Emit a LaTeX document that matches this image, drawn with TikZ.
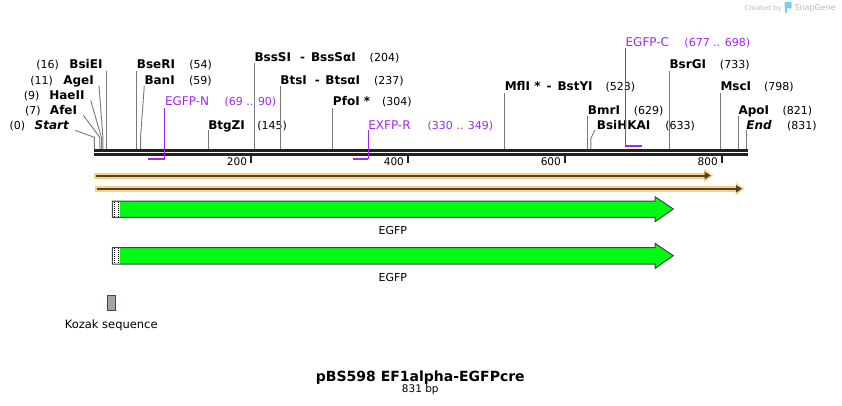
\documentclass[tikz,border=0pt]{standalone}
\usepackage{fontspec}
\setmainfont{DejaVu Sans}
\usepackage{xcolor}
\usetikzlibrary{arrows.meta, positioning}

\definecolor{cebador}{RGB}{160,40,240}
\definecolor{cortegris}{RGB}{120,120,120}
\definecolor{secuencia}{RGB}{34,34,34}
\definecolor{orfclaro}{RGB}{252,206,128}
\definecolor{orfoscuro}{RGB}{80,66,48}
\definecolor{egfpverde}{RGB}{0,250,20}
\definecolor{borde}{RGB}{68,68,68}
\definecolor{kozakgris}{RGB}{160,164,178}
\definecolor{marcagris}{RGB}{185,185,185}
\definecolor{marcaazul}{RGB}{125,200,240}

% posicion en pb -> x
\newcommand{\posx}[1]{94.3+0.7845*#1}

\begin{document}
\begin{tikzpicture}[
					% Estilos del mapa
					x=1pt, y=-1pt,
					>=Stealth,
					sitio/.style={inner sep=0pt, anchor=base west, font=\fontsize{12}{14}\selectfont\bfseries},
					sitioizq/.style={sitio, anchor=base east},
					posicion/.style={inner sep=0pt, anchor=base west, font=\fontsize{11}{13}\selectfont},
					posicionizq/.style={posicion, anchor=base east},
					cebnombre/.style={inner sep=0pt, anchor=base west, text=cebador, font=\fontsize{12}{14}\selectfont},
					cebpos/.style={cebnombre, font=\fontsize{11}{13}\selectfont},
					corteline/.style={draw=cortegris, line width=0.9pt},
					cebline/.style={draw=cebador, line width=1pt},
					cebunion/.style={draw=cebador, line width=2pt},
					secline/.style={draw=secuencia, line width=2.5pt},
					marca/.style={draw=secuencia, line width=1.8pt},
					marcatexto/.style={inner sep=0pt, anchor=base east, font=\fontsize{10.5}{12}\selectfont},
					orffondo/.style={draw=orfclaro, line width=6pt, -{Triangle[length=9pt,width=12pt]}},
					orflinea/.style={draw=orfoscuro, line width=2pt, -{Triangle[length=6pt,width=7pt]}},
					egfp/.style={fill=egfpverde, draw=borde, line width=1pt},
					rotulo/.style={inner sep=0pt, anchor=base, font=\fontsize{11}{13}\selectfont},
					kozak/.style={draw=borde, fill=kozakgris, line width=0.8pt, inner sep=0pt, minimum width=7.7pt, minimum height=15.4pt},
					titulo/.style={inner sep=0pt, anchor=base, font=\fontsize{14}{16}\selectfont\bfseries},
					credito/.style={inner sep=0pt, text=marcagris, font=\fontsize{6.7}{8}\selectfont}
				]
				\useasboundingbox (0,0) rectangle (842,406);
				% Marca de agua
				\node[credito, anchor=base east] (creado) at (781.7,10.7) {Created by};
				\fill[marcaazul, rounded corners=1pt] (784.5,2) rectangle (791.5,8.5);
				\fill[marcaazul] (784.5,4) rectangle (787.2,12.7);
				\node[credito, anchor=base west, font=\fontsize{8}{9}\selectfont] (snapgene) at (794.3,10.7) {SnapGene};
				% Puntos de corte sobre la secuencia
				\coordinate (c-start) at ({\posx{0}},149);
				\coordinate (c-afei) at ({\posx{7}},149);
				\coordinate (c-haeii) at ({\posx{9}},149);
				\coordinate (c-agei) at ({\posx{11}},149);
				\coordinate (c-bsiei) at ({\posx{16}},149);
				\coordinate (c-bseri) at ({\posx{54}},149);
				\coordinate (c-bani) at ({\posx{59}},149);
				\coordinate (c-btgzi) at ({\posx{145}},149);
				\coordinate (c-bsssi) at ({\posx{204}},149);
				\coordinate (c-btsi) at ({\posx{237}},149);
				\coordinate (c-pfoi) at ({\posx{304}},149);
				\coordinate (c-mfli) at ({\posx{523}},149);
				\coordinate (c-bmri) at ({\posx{629}},149);
				\coordinate (c-bsihkai) at ({\posx{633}},149);
				\coordinate (c-bsrgi) at ({\posx{733}},149);
				\coordinate (c-msci) at ({\posx{798}},149);
				\coordinate (c-apoi) at ({\posx{821}},149);
				\coordinate (c-end) at ({\posx{831}},149);
				% Enzimas a la izquierda
				\node[sitioizq, font=\fontsize{12}{14}\selectfont\bfseries\itshape] (start) at (69,129.3) {Start};
				\node[posicionizq] (n-start) at ([xshift=-9pt]start.base west) {(0)};
				\node[sitioizq] (afei) at (77.3,114.3) {AfeI};
				\node[posicionizq] (n-afei) at ([xshift=-9pt]afei.base west) {(7)};
				\node[sitioizq] (haeii) at (84.7,99.3) {HaeII};
				\node[posicionizq] (n-haeii) at ([xshift=-9.5pt]haeii.base west) {(9)};
				\node[sitioizq] (agei) at (94,84.3) {AgeI};
				\node[posicionizq] (n-agei) at ([xshift=-10pt]agei.base west) {(11)};
				\node[sitioizq] (bsiei) at (102.7,69) {BsiEI};
				\node[posicionizq] (n-bsiei) at ([xshift=-10pt]bsiei.base west) {(16)};
				% Enzimas a la derecha
				\node[sitio] (bseri) at ({\posx{54}},69) {BseRI};
				\node[posicion] (n-bseri) at ([xshift=14pt]bseri.base east) {(54)};
				\node[sitio] (bani) at (144.3,84.3) {BanI};
				\node[posicion] (n-bani) at ([xshift=14pt]bani.base east) {(59)};
				\node[sitio] (btgzi) at ({\posx{145}},129.3) {BtgZI};
				\node[posicion] (n-btgzi) at ([xshift=12pt]btgzi.base east) {(145)};
				\node[sitio] (bsssi) at ({\posx{204}},61.3) {BssSI\hspace{9pt}-\hspace{6pt}BssSαI};
				\node[posicion] (n-bsssi) at ([xshift=13.5pt]bsssi.base east) {(204)};
				\node[sitio] (btsi) at ({\posx{237}},84.3) {BtsI\hspace{8pt}-\hspace{5.5pt}BtsαI};
				\node[posicion] (n-btsi) at ([xshift=13.5pt]btsi.base east) {(237)};
				\node[sitio] (pfoi) at ({\posx{304}},106) {PfoI *};
				\node[posicion] (n-pfoi) at ([xshift=11.5pt]pfoi.base east) {(304)};
				\node[sitio] (mfli) at ({\posx{523}},91) {MflI *\hspace{6pt}-\hspace{6pt}BstYI};
				\node[posicion] (n-mfli) at ([xshift=12.5pt]mfli.base east) {(523)};
				\node[sitio] (bmri) at ({\posx{629}},114.3) {BmrI};
				\node[posicion] (n-bmri) at ([xshift=13.5pt]bmri.base east) {(629)};
				\node[sitio] (bsihkai) at (596.7,129.3) {BsiHKAI};
				\node[posicion] (n-bsihkai) at ([xshift=14.5pt]bsihkai.base east) {(633)};
				\node[sitio] (bsrgi) at ({\posx{733}},69) {BsrGI};
				\node[posicion] (n-bsrgi) at ([xshift=13.5pt]bsrgi.base east) {(733)};
				\node[sitio] (msci) at ({\posx{798}},91) {MscI};
				\node[posicion] (n-msci) at ([xshift=12.5pt]msci.base east) {(798)};
				\node[sitio] (apoi) at ({\posx{821}},114.3) {ApoI};
				\node[posicion] (n-apoi) at ([xshift=13pt]apoi.base east) {(821)};
				\node[sitio, font=\fontsize{12}{14}\selectfont\bfseries\itshape] (end) at ({\posx{831}},129.3) {End};
				\node[posicion] (n-end) at ([xshift=15pt]end.base east) {(831)};
				% Lineas de corte
				\draw[corteline] ([shift={(6pt,-1pt)}]start.base east) -- ([yshift=11.7pt]c-start) -- (c-start);
				\draw[corteline] ([shift={(6pt,-1pt)}]afei.base east) -- ([yshift=11.7pt]c-afei) -- (c-afei);
				\draw[corteline] ([shift={(6pt,-1pt)}]haeii.base east) -- ([yshift=11.7pt]c-haeii) -- (c-haeii);
				\draw[corteline] ([shift={(5pt,-1.4pt)}]agei.base east) -- ([yshift=11.7pt]c-agei) -- (c-agei);
				\draw[corteline] ([yshift=-2pt]bsiei.base -| c-bsiei) -- (c-bsiei);
				\draw[corteline] ([yshift=-2pt]bseri.base west) -- (c-bseri);
				\draw[corteline] ([yshift=-1.4pt]bani.base west) -- ([yshift=12.3pt]c-bani) -- (c-bani);
				\draw[corteline] ([yshift=-1pt]btgzi.base west) -- (c-btgzi);
				\draw[corteline] ([yshift=-2pt]bsssi.base west) -- (c-bsssi);
				\draw[corteline] ([yshift=-2pt]btsi.base west) -- (c-btsi);
				\draw[corteline] ([yshift=-2pt]pfoi.base west) -- (c-pfoi);
				\draw[corteline] ([yshift=-2.5pt]mfli.base west) -- (c-mfli);
				\draw[corteline] ([yshift=-2pt]bmri.base west) -- (c-bmri);
				\draw[corteline] ([shift={(-1.7pt,-0.7pt)}]bsihkai.base west) -- ([yshift=10.7pt]c-bsihkai) -- (c-bsihkai);
				\draw[corteline] ([yshift=-2pt]bsrgi.base west) -- (c-bsrgi);
				\draw[corteline] ([yshift=-2pt]msci.base west) -- (c-msci);
				\draw[corteline] ([yshift=-1.5pt]apoi.base west) -- (c-apoi);
				\draw[corteline] ([yshift=-1pt]end.base west) -- (c-end);
				% Secuencia (doble hebra)
				\coordinate (sec-a1) at (94.3,150.5);
				\coordinate (sec-b1) at (747.7,150.5);
				\coordinate (sec-a2) at (94.3,154.5);
				\coordinate (sec-b2) at (747.7,154.5);
				\draw[secline] (sec-a1) -- (sec-b1);
				\draw[secline] (sec-a2) -- (sec-b2);
				% Escala
				\coordinate (t200) at ({\posx{200}},155);
				\coordinate (t400) at ({\posx{400}},155);
				\coordinate (t600) at ({\posx{600}},155);
				\coordinate (t800) at ({\posx{800}},155);
				\draw[marca] (t200) -- ++(0,8);
				\draw[marca] (t400) -- ++(0,8);
				\draw[marca] (t600) -- ++(0,8);
				\draw[marca] (t800) -- ++(0,8);
				\node[marcatexto] (l200) at ([shift={(-4pt,-10.7pt)}]t200) {200};
				\node[marcatexto] (l400) at ([shift={(-4pt,-10.7pt)}]t400) {400};
				\node[marcatexto] (l600) at ([shift={(-4pt,-10.7pt)}]t600) {600};
				\node[marcatexto] (l800) at ([shift={(-4pt,-10.7pt)}]t800) {800};
				% Cebadores
				\coordinate (egfpn-a) at ({\posx{69}},159.3);
				\coordinate (egfpn-b) at ({\posx{90}},159.3);
				\node[cebnombre] (egfpn) at ({\posx{90}},106) {EGFP-N};
				\node[cebpos] (n-egfpn) at ([xshift=15pt]egfpn.base east) {(69 .. 90)};
				\draw[cebline] ([yshift=-2pt]egfpn.base west) -- (egfpn-b);
				\draw[cebunion] (egfpn-b) -- (egfpn-a);
				\coordinate (exfpr-a) at ({\posx{330}},159.3);
				\coordinate (exfpr-b) at ({\posx{349}},159.3);
				\node[cebnombre] (exfpr) at ({\posx{349}},129.3) {EXFP-R};
				\node[cebpos] (n-exfpr) at ([xshift=16.5pt]exfpr.base east) {(330 .. 349)};
				\draw[cebline] ([yshift=-1pt]exfpr.base west) -- (exfpr-b);
				\draw[cebunion] (exfpr-b) -- (exfpr-a);
				\coordinate (egfpc-a) at ({\posx{677}},146);
				\coordinate (egfpc-b) at ({\posx{698}},146);
				\node[cebnombre] (egfpc) at ({\posx{677}},46.7) {EGFP-C};
				\node[cebpos] (n-egfpc) at ([xshift=15pt]egfpc.base east) {(677 .. 698)};
				\draw[cebline] ([yshift=-1.6pt]egfpc.base west) -- (egfpc-a);
				\draw[cebunion] (egfpc-a) -- (egfpc-b);
				% Marcos de lectura
				\coordinate (orf1-a) at (94.3,175.5);
				\coordinate (orf1-b) at (710.7,175.5);
				\coordinate (orf2-a) at (95.3,188.8);
				\coordinate (orf2-b) at (742,188.8);
				\draw[orffondo] (orf1-a) -- ([xshift=2.5pt]orf1-b);
				\draw[orflinea] ([xshift=2pt]orf1-a) -- (orf1-b);
				\draw[orffondo] (orf2-a) -- ([xshift=2.5pt]orf2-b);
				\draw[orflinea] ([xshift=2pt]orf2-a) -- (orf2-b);
				% Caracteristicas EGFP
				\fill[egfpverde] (112.3,201) -- (655,201) -- (655,196.7) -- (673.3,209) -- (655,221.7) -- (655,217.3) -- (112.3,217.3) -- cycle;
				\fill[white] (112.8,201.5) rectangle (119.5,216.8);
				\draw[black, line width=1pt, dash pattern=on 1pt off 1pt] (114.4,201.5) -- (114.4,216.8);
				\draw[black, line width=1pt, dash pattern=on 1pt off 1pt] (118.3,201.5) -- (118.3,216.8);
				\draw[egfp, fill=none] (112.3,201) -- (655,201) -- (655,196.7) -- (673.3,209) -- (655,221.7) -- (655,217.3) -- (112.3,217.3) -- cycle;
				\node[rotulo] (egfp1) at (392.8,234.3) {EGFP};
				\fill[egfpverde] (112.3,247.7) -- (655,247.7) -- (655,243.4) -- (673.3,255.7) -- (655,268.4) -- (655,264) -- (112.3,264) -- cycle;
				\fill[white] (112.8,248.2) rectangle (119.5,263.5);
				\draw[black, line width=1pt, dash pattern=on 1pt off 1pt] (114.4,248.2) -- (114.4,263.5);
				\draw[black, line width=1pt, dash pattern=on 1pt off 1pt] (118.3,248.2) -- (118.3,263.5);
				\draw[egfp, fill=none] (112.3,247.7) -- (655,247.7) -- (655,243.4) -- (673.3,255.7) -- (655,268.4) -- (655,264) -- (112.3,264) -- cycle;
				\node[rotulo] (egfp2) at (392.8,281) {EGFP};
				% Kozak
				\node[kozak] (kozak) at (111.2,303) {};
				\node[rotulo, font=\fontsize{11.5}{13}\selectfont] (kozak-txt) at ([yshift=-17pt]kozak.south) {Kozak sequence};
				% Titulo
				\node[titulo] (titulo) at (420.3,381.7) {pBS598 EF1alpha-EGFPcre};
				\node[rotulo, font=\fontsize{10.5}{12}\selectfont] (longitud) at ([yshift=-11pt]titulo.base) {831 bp};
			\end{tikzpicture}
\end{document}
